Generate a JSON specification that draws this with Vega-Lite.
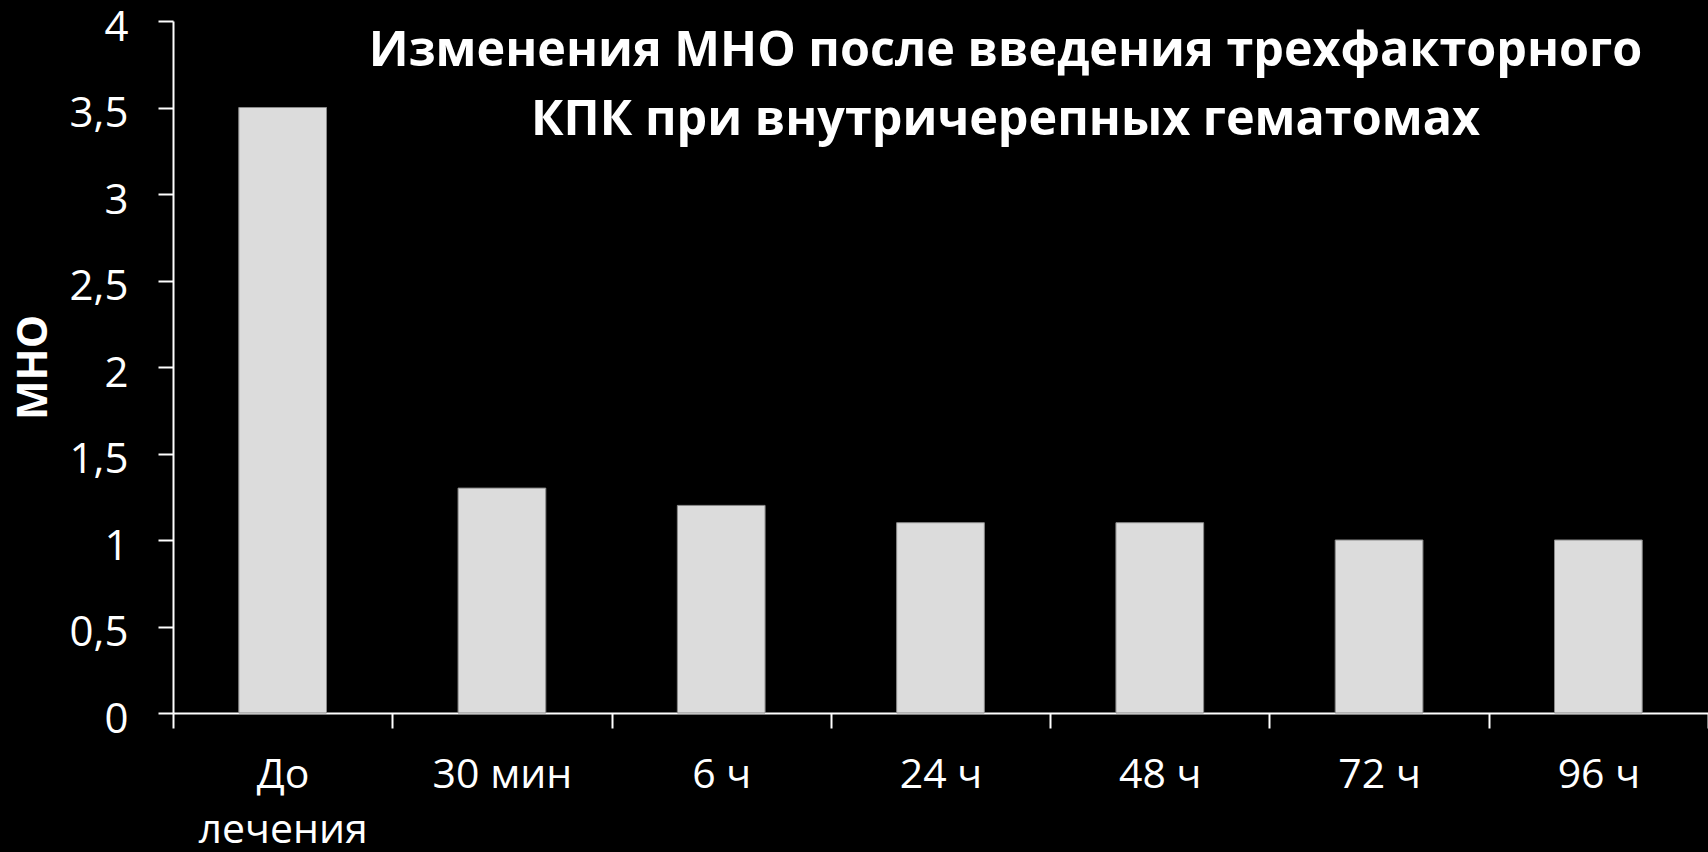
{
  "$schema": "https://vega.github.io/schema/vega-lite/v6.json",
  "autosize": "none",
  "width": 1535,
  "height": 692,
  "padding": {"left": 173, "top": 21, "right": 0, "bottom": 139},
  "background": "black",
  "config": {
    "view": {"stroke": null},
    "font": "Open Sans"
  },
  "title": {
    "text": ["Изменения МНО после введения трехфакторного", "КПК при внутричерепных гематомах"],
    "fontSize": 48.5,
    "fontWeight": "bold",
    "color": "white",
    "font": "Open Sans",
    "anchor": "middle",
    "frame": "group",
    "baseline": "top",
    "lineHeight": 69,
    "offset": -139,
    "dx": 65
  },
  "data": {
    "values": [
      {"time": "До лечения", "inr": 3.5},
      {"time": "30 мин", "inr": 1.3},
      {"time": "6 ч", "inr": 1.2},
      {"time": "24 ч", "inr": 1.1},
      {"time": "48 ч", "inr": 1.1},
      {"time": "72 ч", "inr": 1.0},
      {"time": "96 ч", "inr": 1.0}
    ]
  },
  "mark": {"type": "bar", "color": "#DCDCDC", "stroke": "#8a8a8a", "strokeWidth": 1, "width": {"band": 0.4}},
  "encoding": {
    "x": {
      "field": "time",
      "type": "nominal",
      "sort": null,
      "scale": {"paddingInner": 0, "paddingOuter": 0},
      "axis": {
        "title": "Сроки после введения КПК",
        "titleFont": "Open Sans",
        "titleFontSize": 40,
        "titleFontWeight": "bold",
        "titleColor": "white",
        "titleAnchor": "start",
        "titleAlign": "left",
        "titleBaseline": "top",
        "titleX": 530,
        "titleY": 136,
        "labelAngle": 0,
        "labelFont": "Open Sans",
        "labelFontSize": 41,
        "labelColor": "white",
        "labelPadding": 27,
        "labelLineHeight": 55,
        "labelExpr": "datum.value == 'До лечения' ? ['До', 'лечения'] : datum.label",
        "tickBand": "extent",
        "tickColor": "white",
        "tickSize": 15,
        "tickWidth": 2,
        "domainColor": "white",
        "domainWidth": 2,
        "grid": false
      }
    },
    "y": {
      "field": "inr",
      "type": "quantitative",
      "scale": {"domain": [0, 4], "nice": false},
      "axis": {
        "title": "МНО",
        "titleFont": "Open Sans",
        "titleFontSize": 42,
        "titleFontWeight": "bold",
        "titleColor": "white",
        "titlePadding": 14,
        "values": [0, 0.5, 1, 1.5, 2, 2.5, 3, 3.5, 4],
        "labelExpr": "replace(format(datum.value, '~g'), '.', ',')",
        "labelFont": "Open Sans",
        "labelFontSize": 42,
        "labelColor": "white",
        "labelPadding": 30,
        "labelOffset": 6,
        "tickColor": "white",
        "tickSize": 15,
        "tickWidth": 2,
        "domainColor": "white",
        "domainWidth": 2,
        "grid": false
      }
    }
  }
}
